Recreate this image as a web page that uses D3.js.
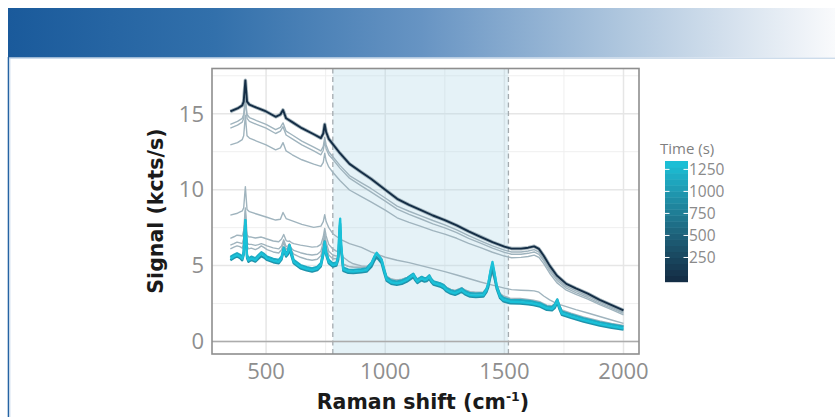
<!DOCTYPE html>
<html><head><meta charset="utf-8">
<script src="https://cdn.jsdelivr.net/npm/d3@7/dist/d3.min.js"></script>
<style>body{margin:0;background:#fff;}svg{display:block;font-family:"Open Sans",Lato,sans-serif;}</style>
</head><body><svg id="c" width="835" height="417"></svg>
<script>
// ---------- DATA ----------
const xTicks = [500, 1000, 1500, 2000];
const yTicks = [0, 5, 10, 15];
const timeTicks = [250, 500, 750, 1000, 1250];
const shadeRange = [780, 1517];

// grid for the broad (fluorescence dominated) spectra
const shiftA = [350,380,400,406,413,420,430,460,500,540,560,571,584,610,650,700,730,740,746,752,763,780,810,850,900,940,1000,1050,1100,1150,1200,1250,1300,1350,1400,1450,1500,1530,1570,1600,1625,1645,1665,1690,1720,1760,1800,1850,1900,1950,2000];
const sigT0 = [15.15,15.35,15.55,15.8,17.2,15.8,15.6,15.4,15.15,14.8,14.95,15.25,14.7,14.45,14.05,13.65,13.4,13.7,14.3,13.8,13.35,13.0,12.4,11.7,11.15,10.72,10.0,9.4,9.0,8.65,8.3,8.0,7.65,7.25,6.9,6.55,6.25,6.12,6.12,6.18,6.27,6.1,5.65,5.0,4.35,3.8,3.5,3.15,2.75,2.4,2.05];
const sigA = [14.3,14.5,14.7,14.95,16.1,14.95,14.75,14.55,14.3,13.95,14.1,14.4,13.85,13.6,13.2,12.8,12.55,12.85,13.45,12.95,12.5,12.17,11.6,10.93,10.45,10.08,9.45,8.92,8.58,8.28,7.97,7.68,7.35,6.97,6.63,6.3,6.02,5.9,5.9,5.96,6.05,5.89,5.45,4.8,4.16,3.63,3.34,3.0,2.61,2.27,1.93];
const sigB = [14.05,14.25,14.45,14.7,15.9,14.7,14.5,14.3,14.05,13.7,13.85,14.15,13.6,13.35,12.95,12.55,12.3,12.6,13.2,12.7,12.3,12.0,11.42,10.76,10.25,9.86,9.25,8.72,8.38,8.07,7.75,7.48,7.17,6.8,6.48,6.15,5.87,5.75,5.75,5.81,5.9,5.74,5.31,4.67,4.04,3.52,3.22,2.9,2.52,2.19,1.85];
const sigC = [12.95,13.1,13.3,13.55,14.9,13.55,13.4,13.2,12.95,12.62,12.75,13.1,12.55,12.3,11.97,11.68,11.53,11.8,12.4,11.9,11.5,11.15,10.6,9.98,9.55,9.2,8.65,8.15,7.85,7.58,7.3,7.07,6.8,6.47,6.18,5.88,5.63,5.52,5.54,5.6,5.69,5.54,5.13,4.5,3.88,3.38,3.1,2.79,2.43,2.1,1.75];
const sigD = [8.32,8.45,8.6,8.8,10.2,8.7,8.55,8.4,8.2,8.0,8.05,8.5,8.1,7.95,7.72,7.52,7.6,7.9,8.35,7.9,7.5,7.1,6.75,6.45,6.2,5.9,5.55,5.35,5.2,5.0,4.8,4.6,4.38,4.15,3.92,3.72,3.52,3.42,3.38,3.36,3.34,3.25,3.0,2.75,2.5,2.3,2.1,1.88,1.65,1.42,1.2];

// grid for the spectra carrying the product bands
const shiftC = [350,365,378,390,400,406,413,420,426,438,455,468,480,492,504,530,553,565,574,584,592,598,606,616,644,670,693,715,730,740,746,752,763,780,795,803,808,811,815,824,845,866,900,922,943,955,964,975,985,995,1006,1025,1048,1070,1090,1110,1118,1126,1135,1145,1153,1165,1174,1185,1192,1202,1230,1245,1258,1275,1293,1310,1321,1335,1356,1380,1412,1425,1433,1442,1450,1458,1468,1482,1496,1524,1566,1600,1622,1650,1678,1700,1712,1722,1730,1741,1780,1832,1900,1950,2000];
const sigE = [6.8,6.9,7.0,6.98,6.95,7.3,8.8,7.05,6.9,6.88,6.82,6.85,6.88,6.82,6.75,6.62,6.57,6.75,7.05,6.65,6.6,6.62,6.52,6.45,6.35,6.28,6.22,6.25,6.4,6.9,7.45,6.95,6.4,6.1,5.95,5.92,6.0,6.05,5.9,
  5.55,5.3,5.12,4.98,4.95,5.12,5.4,5.55,5.4,5.2,4.7,4.3,4.1,4.03,4.08,4.2,4.38,4.45,4.25,4.1,4.2,4.25,4.15,4.18,4.3,4.15,3.98,3.86,3.75,3.56,3.44,3.37,3.47,3.53,3.4,3.28,3.25,3.27,3.45,3.7,4.2,4.45,4.1,3.6,3.18,3.0,2.86,2.83,2.78,2.73,2.62,2.4,2.36,2.48,2.68,2.45,2.08,1.87,1.62,1.36,1.2,1.06];
const sigF = [6.35,6.45,6.55,6.5,6.45,6.8,8.6,6.55,6.4,6.4,6.33,6.38,6.45,6.38,6.3,6.17,6.1,6.3,6.7,6.25,6.3,6.4,6.15,6.0,5.85,5.75,5.7,5.75,5.95,6.55,7.1,6.55,5.95,5.7,5.62,5.7,6.1,6.25,5.8,
  5.1,4.95,4.9,4.9,4.9,5.15,5.45,5.6,5.42,5.2,4.72,4.25,4.08,4.02,4.08,4.2,4.38,4.45,4.24,4.08,4.18,4.24,4.15,4.18,4.32,4.13,3.95,3.83,3.72,3.53,3.4,3.33,3.44,3.51,3.36,3.23,3.2,3.22,3.47,3.8,4.45,4.8,4.35,3.62,3.1,2.92,2.79,2.77,2.72,2.67,2.57,2.35,2.32,2.48,2.76,2.42,2.02,1.82,1.57,1.31,1.16,1.02];
const sigG = [6.1,6.22,6.3,6.25,6.15,6.5,8.4,6.3,6.1,6.15,6.05,6.15,6.3,6.18,6.05,5.9,5.83,6.05,6.55,6.05,6.2,6.45,6.0,5.75,5.55,5.42,5.35,5.42,5.65,6.3,6.95,6.3,5.7,5.45,5.45,5.6,6.6,6.9,6.0,
  5.1,4.95,4.9,4.88,4.9,5.15,5.45,5.6,5.42,5.2,4.75,4.3,4.12,4.05,4.1,4.2,4.38,4.45,4.25,4.1,4.2,4.25,4.15,4.18,4.32,4.13,3.95,3.83,3.73,3.54,3.42,3.35,3.46,3.53,3.38,3.25,3.22,3.24,3.48,3.8,4.45,4.8,4.35,3.65,3.08,2.9,2.77,2.74,2.7,2.64,2.54,2.32,2.29,2.47,2.78,2.42,2.0,1.8,1.55,1.29,1.14,1.0];
const sigLate1 = [5.35,5.5,5.6,5.5,5.35,5.7,7.7,5.5,5.25,5.37,5.26,5.45,5.62,5.52,5.37,5.22,5.15,5.4,6.0,5.59,5.75,6.1,5.65,5.15,4.82,4.68,4.6,4.7,4.95,5.7,6.4,5.7,5.15,4.93,5.0,5.4,6.9,7.3,6.0,4.65,4.52,4.5,4.55,4.6,4.95,5.35,5.55,5.35,5.15,4.55,4.0,3.8,3.73,3.8,3.94,4.15,4.24,4.03,3.85,3.96,4.03,3.94,3.98,4.13,3.94,3.75,3.62,3.5,3.29,3.15,3.07,3.19,3.28,3.1,2.96,2.93,2.96,3.26,3.6,4.3,4.75,4.25,3.45,2.85,2.65,2.52,2.5,2.45,2.4,2.3,2.08,2.05,2.22,2.55,2.18,1.76,1.55,1.31,1.05,0.9,0.78];
const sigLate2 = [5.57,5.72,5.82,5.72,5.57,5.92,8.0,5.72,5.47,5.59,5.48,5.7,5.88,5.76,5.59,5.44,5.37,5.6,6.2,5.8,5.98,6.35,5.9,5.37,5.04,4.9,4.82,4.92,5.17,5.9,6.6,5.9,5.37,5.15,5.2,5.6,7.3,7.75,6.3,4.87,4.74,4.72,4.77,4.82,5.2,5.6,5.8,5.6,5.4,4.8,4.22,4.02,3.95,4.02,4.16,4.38,4.47,4.25,4.07,4.19,4.26,4.16,4.2,4.36,4.16,3.97,3.84,3.72,3.51,3.37,3.29,3.41,3.5,3.32,3.18,3.15,3.18,3.48,3.85,4.6,5.07,4.5,3.68,3.07,2.87,2.74,2.72,2.67,2.62,2.52,2.3,2.27,2.45,2.78,2.4,1.98,1.77,1.53,1.27,1.12,0.98];
const sigLate3 = [5.45,5.6,5.7,5.6,5.45,5.8,8.0,5.6,5.35,5.47,5.36,5.6,5.8,5.65,5.47,5.32,5.25,5.5,6.13,5.69,5.9,6.35,5.8,5.25,4.92,4.78,4.7,4.8,5.05,5.8,6.55,5.8,5.25,5.03,5.1,5.6,7.6,8.1,6.4,4.75,4.62,4.6,4.65,4.7,5.14,5.6,5.85,5.6,5.36,4.7,4.1,3.9,3.83,3.9,4.05,4.3,4.4,4.15,3.95,4.08,4.16,4.05,4.09,4.28,4.05,3.85,3.72,3.6,3.39,3.25,3.17,3.3,3.39,3.2,3.06,3.03,3.06,3.4,3.83,4.7,5.25,4.6,3.6,2.95,2.75,2.62,2.6,2.55,2.5,2.4,2.18,2.15,2.35,2.73,2.3,1.86,1.65,1.41,1.15,1.0,0.87];

// acquisition times (s) of the coloured spectra
const timeLate = [950, 1150, 1340];
const timeFirst = 0;
const timeRange = [-25, 1345];

// ---------- CHART ----------
const svg = d3.select("#c");
const defs = svg.append("defs");
const hg = defs.append("linearGradient").attr("id","hdr").attr("x1","0").attr("x2","1").attr("y1","0").attr("y2","0");
[[0,"#1a5a9b"],[0.25,"#3270ab"],[0.5,"#6794c3"],[0.75,"#b1c8df"],[1,"#f9fafc"]].forEach(s=>hg.append("stop").attr("offset",s[0]).attr("stop-color",s[1]));
svg.append("rect").attr("x",8).attr("y",8).attr("width",827).attr("height",49.5).attr("fill","url(#hdr)");
svg.append("line").attr("x1",9).attr("x2",835).attr("y1",58.2).attr("y2",58.2).attr("stroke","#b7cce2").attr("stroke-width",1);
svg.append("line").attr("x1",8.4).attr("x2",8.4).attr("y1",57).attr("y2",417).attr("stroke","#2563a3").attr("stroke-width",1.4);
svg.append("line").attr("x1",9.8).attr("x2",9.8).attr("y1",58).attr("y2",417).attr("stroke","#bcd0e6").attr("stroke-width",1);

const P = {l:212, r:639, t:68.5, b:354};
const x = d3.scaleLinear().domain([273, 2065]).range([P.l, P.r]);
const y = d3.scaleLinear().domain([-0.82, 17.98]).range([P.b, P.t]);
const col = d3.scaleLinear().domain([-25, 1345]).range(["#132B43","#1AC2D9"]).interpolate(d3.interpolateLab);

defs.append("clipPath").attr("id","clip").append("rect").attr("x",P.l).attr("y",P.t).attr("width",P.r-P.l).attr("height",P.b-P.t);

const g = svg.append("g");
const xMinor = [750,1250,1750], yMinor=[2.5,7.5,12.5,17.5];
g.selectAll(".xm").data(xMinor).join("line").attr("x1",d=>x(d)).attr("x2",d=>x(d)).attr("y1",P.t).attr("y2",P.b).attr("stroke","#efefef").attr("stroke-width",1);
g.selectAll(".ym").data(yMinor).join("line").attr("y1",d=>y(d)).attr("y2",d=>y(d)).attr("x1",P.l).attr("x2",P.r).attr("stroke","#efefef").attr("stroke-width",1);
g.selectAll(".xM").data(xTicks).join("line").attr("x1",d=>x(d)).attr("x2",d=>x(d)).attr("y1",P.t).attr("y2",P.b).attr("stroke","#e6e6e6").attr("stroke-width",1.5);
g.selectAll(".yM").data(yTicks).join("line").attr("y1",d=>y(d)).attr("y2",d=>y(d)).attr("x1",P.l).attr("x2",P.r).attr("stroke","#e6e6e6").attr("stroke-width",1.5);

g.append("rect").attr("x",x(shadeRange[0])).attr("width",x(shadeRange[1])-x(shadeRange[0])).attr("y",P.t).attr("height",P.b-P.t).attr("fill","#add8e6").attr("fill-opacity",0.32);
g.selectAll(".dash").data(shadeRange).join("line").attr("x1",d=>x(d)).attr("x2",d=>x(d)).attr("y1",P.t).attr("y2",P.b).attr("stroke","#a4abaf").attr("stroke-width",1.3).attr("stroke-dasharray","5,3.5");
g.append("line").attr("x1",P.l).attr("x2",P.r).attr("y1",y(0)).attr("y2",y(0)).attr("stroke","#acacac").attr("stroke-width",1.4);

const lines = svg.append("g").attr("clip-path","url(#clip)");
const lineGen = d3.line().x(d=>x(d[0])).y(d=>y(d[1]));
function draw(shifts, vals, stroke, w, op){
  lines.append("path").datum(shifts.map((s,i)=>[s, vals[i]])).attr("d",lineGen).attr("fill","none")
    .attr("stroke",stroke).attr("stroke-width",w).attr("stroke-opacity",op).attr("stroke-linejoin","round");
}
const grey = "#a0b4be";
draw(shiftA, sigD, grey, 1.4, 1);
draw(shiftA, sigC, grey, 1.4, 1);
draw(shiftA, sigB, grey, 1.4, 1);
draw(shiftA, sigA, grey, 1.4, 1);
draw(shiftC, sigE, grey, 1.4, 1);
draw(shiftC, sigF, grey, 1.4, 1);
draw(shiftC, sigG, grey, 1.4, 1);
draw(shiftC, sigLate1, col(timeLate[0]), 2.3, 1);
draw(shiftC, sigLate2, col(timeLate[1]), 2.3, 1);
draw(shiftC, sigLate3, col(timeLate[2]), 2.3, 1);
draw(shiftA, sigT0, "#8ea2ad", 3.6, 0.8);
draw(shiftA, sigT0, col(timeFirst), 1.9, 1);

svg.append("rect").attr("x",P.l).attr("y",P.t).attr("width",P.r-P.l).attr("height",P.b-P.t).attr("fill","none").attr("stroke","#8e8e8e").attr("stroke-width",1.6);

svg.selectAll(".xl").data(xTicks).join("text").attr("x",d=>x(d)).attr("y",379).attr("text-anchor","middle")
  .attr("font-size",22).attr("fill","#8e8e8e").text(d=>d);
svg.selectAll(".yl").data(yTicks).join("text").attr("x",204).attr("y",d=>y(d)+7.8).attr("text-anchor","end")
  .attr("font-size",22).attr("fill","#8e8e8e").text(d=>d);

const xt = svg.append("text").attr("x",423).attr("y",409).attr("text-anchor","middle").attr("font-family","'DejaVu Sans',sans-serif")
  .attr("font-size",20.5).attr("font-weight",700).attr("fill","#1a1a1a");
xt.append("tspan").text("Raman shift (cm");
xt.append("tspan").attr("font-size",12.5).attr("dy",-8).text("-1");
xt.append("tspan").attr("dy",8).text(")");
svg.append("text").attr("transform","translate(163,211) rotate(-90)").attr("text-anchor","middle").attr("font-family","'DejaVu Sans',sans-serif")
  .attr("font-size",20.5).attr("font-weight",700).attr("fill","#1a1a1a").text("Signal (kcts/s)");

const cb = {x:665, w:23, t:161, b:281.7};
const ty = d3.scaleLinear().domain(timeRange).range([cb.b, cb.t]);
const nb = 20;
const step = (timeRange[1]-timeRange[0])/nb;
const bins = d3.range(nb).map(i=>timeRange[0]+i*step);
svg.append("g").selectAll("rect").data(bins).join("rect").attr("x",cb.x).attr("width",cb.w)
  .attr("y",d=>ty(d+step)).attr("height",d=>ty(d)-ty(d+step)+0.5).attr("fill",d=>col(d+step/2));
svg.append("g").selectAll("line").data(timeTicks).join("line").attr("x1",cb.x).attr("x2",cb.x+4.5).attr("y1",d=>ty(d)).attr("y2",d=>ty(d)).attr("stroke","#fff").attr("stroke-width",1);
svg.append("g").selectAll("line").data(timeTicks).join("line").attr("x1",cb.x+cb.w-4.5).attr("x2",cb.x+cb.w).attr("y1",d=>ty(d)).attr("y2",d=>ty(d)).attr("stroke","#fff").attr("stroke-width",1);
svg.selectAll(".cl").data(timeTicks).join("text").attr("x",689).attr("y",d=>ty(d)+5.5).attr("font-size",15.5).attr("fill","#8a8a8a").text(d=>d);
svg.append("text").attr("x",660).attr("y",154).attr("font-size",15).attr("fill","#7f7f7f").text("Time (s)");
</script></body></html>
